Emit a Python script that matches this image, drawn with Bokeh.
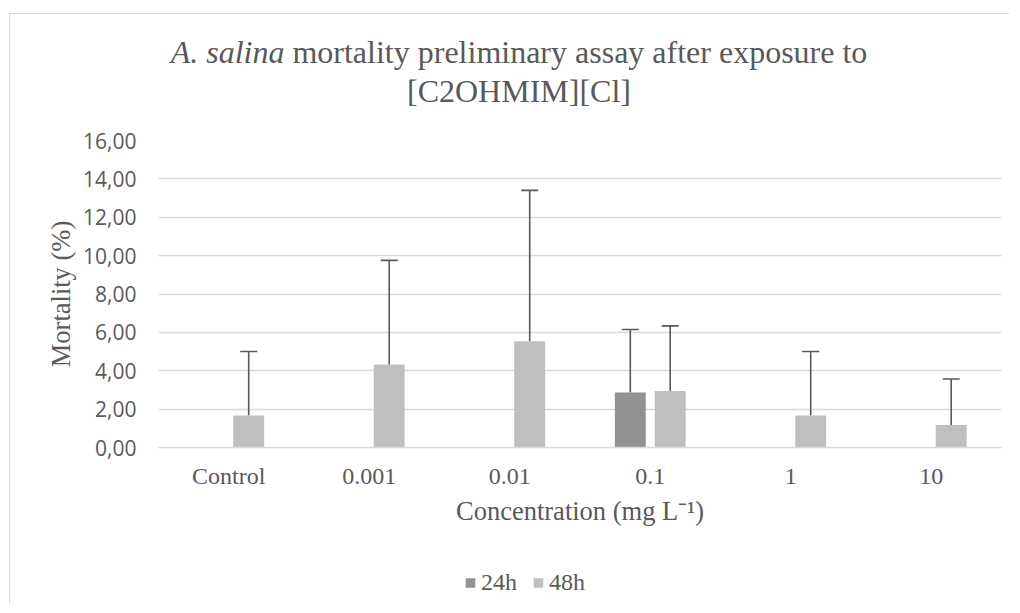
from bokeh.plotting import figure
from bokeh.models import (ColumnDataSource, FactorRange, Range1d, Whisker, TeeHead,
                          Legend, LegendItem, FixedTicker, Div)
from bokeh.transform import dodge
from bokeh.embed import file_html
from bokeh.resources import INLINE

# ---- data ----
categories = ["Control", "0.001", "0.01", "0.1", "1", "10"]
series = ["24h", "48h"]
mort_24h = [0.0, 0.0, 0.0, 2.86, 0.0, 0.0]
err_24h = [0.0, 0.0, 0.0, 3.29, 0.0, 0.0]
mort_48h = [1.67, 4.32, 5.54, 2.94, 1.67, 1.17]
err_48h = [3.33, 5.43, 7.86, 3.40, 3.33, 2.40]
y_ticks = [0, 2, 4, 6, 8, 10, 12, 14, 16]
y_tick_labels = [f"{t:.2f}".replace(".", ",") for t in y_ticks]
title_species = "A. salina"
title_rest = "mortality preliminary assay after exposure to"
title_line2 = "[C2OHMIM][Cl]"
x_title = "Concentration (mg L⁻¹)"
y_title = "Mortality (%)"

colors = {"24h": "#929292", "48h": "#bfbfbf"}
offsets = {"24h": -0.142, "48h": 0.142}
TXT = "#595959"
SERIF = "Liberation Serif"

p = figure(width=1020, height=612, x_range=FactorRange(*categories, range_padding=0),
           y_range=Range1d(0, 16), output_backend="svg", toolbar_location=None,
           min_border_left=158, min_border_right=19, min_border_top=140,
           min_border_bottom=165)
p.outline_line_color = None
p.background_fill_color = "white"
p.border_fill_color = "white"

# grid
p.xgrid.grid_line_color = None
p.ygrid.grid_line_color = "#d9d9d9"
p.ygrid.grid_line_width = 1.3
p.yaxis.ticker = FixedTicker(ticks=y_ticks)
p.yaxis.major_label_overrides = {t: l for t, l in zip(y_ticks, y_tick_labels)}

# y axis
p.yaxis.axis_line_color = None
p.yaxis.major_tick_line_color = None
p.yaxis.minor_tick_line_color = None
p.yaxis.major_tick_out = 0
p.yaxis.major_label_standoff = 22
p.yaxis.major_label_text_font = "Open Sans"
p.yaxis.major_label_text_font_size = "21px"
p.yaxis.major_label_text_color = TXT
p.yaxis.axis_label = y_title
p.yaxis.axis_label_text_font = SERIF
p.yaxis.axis_label_text_font_style = "normal"
p.yaxis.axis_label_text_font_size = "26.5px"
p.yaxis.axis_label_text_color = TXT
p.yaxis.axis_label_standoff = 4

# x axis
p.xaxis.axis_line_color = "#d9d9d9"
p.xaxis.axis_line_width = 1.3
p.xaxis.major_tick_line_color = None
p.xaxis.minor_tick_line_color = None
p.xaxis.major_tick_out = 0
p.xaxis.major_label_standoff = 15
p.xaxis.major_label_text_font = SERIF
p.xaxis.major_label_text_font_size = "24px"
p.xaxis.major_label_text_color = TXT
p.xaxis.axis_label = x_title
p.xaxis.axis_label_text_font = SERIF
p.xaxis.axis_label_text_font_style = "normal"
p.xaxis.axis_label_text_font_size = "26.5px"
p.xaxis.axis_label_text_color = TXT
p.xaxis.axis_label_standoff = 4

for s, vals, errs in (("24h", mort_24h, err_24h), ("48h", mort_48h, err_48h)):
    src = ColumnDataSource(dict(cat=categories, val=vals))
    p.vbar(x=dodge("cat", offsets[s], range=p.x_range), top="val", width=0.22,
           source=src, fill_color=colors[s], line_color=None)
    keep = [i for i, e in enumerate(errs) if e > 0]
    wsrc = ColumnDataSource(dict(cat=[categories[i] for i in keep],
                                 lo=[vals[i] for i in keep],
                                 hi=[vals[i] + errs[i] for i in keep]))
    w = Whisker(base=dodge("cat", offsets[s], range=p.x_range), lower="lo", upper="hi",
                source=wsrc, line_color="#595959", line_width=1.6,
                upper_head=TeeHead(size=17, line_color="#595959", line_width=1.6),
                lower_head=None)
    p.add_layout(w)

# chart title + chart-area border, overlaid on the figure's top margin
title_div = Div(
    text=(f'<div style="width:1000px;box-sizing:border-box;font-family:\'{SERIF}\';'
          f'font-size:32px;line-height:39px;color:{TXT};text-align:center;'
          f'padding-top:19px;padding-left:18px;">'
          f'<i>{title_species}</i> {title_rest}<br>{title_line2}</div>'),
    width=1000, height=590, margin=(0, 0, 0, 0),
    styles={"position": "absolute", "left": "9px", "top": "13px", "z-index": "5",
            "pointer-events": "none", "border-left": "1px solid #d9d9d9",
            "border-top": "1px solid #d9d9d9", "background": "transparent"})

# legend (small overlay figure placed under the axis title)
lg = figure(width=160, height=34, output_backend="svg", toolbar_location=None,
            x_axis_type=None, y_axis_type=None, min_border=0,
            x_range=Range1d(0, 1), y_range=Range1d(0, 1),
            styles={"position": "absolute", "left": "464px", "top": "565px",
                    "z-index": "6"})
lg.outline_line_color = None
lg.background_fill_alpha = 0
lg.border_fill_alpha = 0
lg.grid.visible = False
items = []
for s in series:
    # zero-height swatch bar: only its legend glyph is seen
    r = lg.vbar(x=[0.5], top=[0], bottom=[0], width=0.1,
                fill_color=colors[s], line_color=None)
    items.append(LegendItem(label=s, renderers=[r]))
legend = Legend(items=items, orientation="horizontal", location="left",
                glyph_width=12, glyph_height=12, label_standoff=5, spacing=15,
                padding=0, margin=0, border_line_color=None, background_fill_alpha=0,
                label_text_font=SERIF, label_text_font_size="24px", label_text_color=TXT)
lg.add_layout(legend, "center")

open("out.html", "w").write(file_html([p, title_div, lg], INLINE))
